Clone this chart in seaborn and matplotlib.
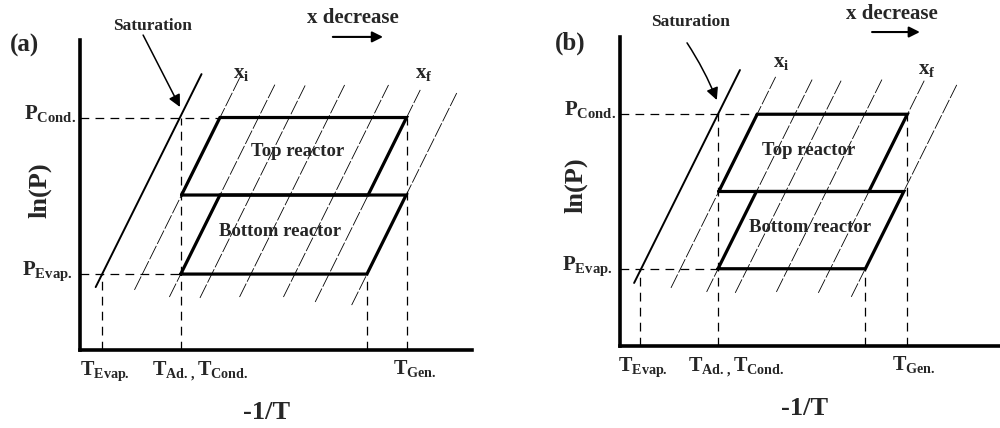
import numpy as np
import pandas as pd
import matplotlib
matplotlib.use("Agg")
import matplotlib.pyplot as plt
import seaborn as sns

# ---- panel (a) ----
a_sat = [4.0, 20.3, 31.0, 89.0]          # x0, y0, x1, y1
a_iso_x0 = [13.9, 22.8, 30.6, 40.7, 51.9, 60.0, 69.3]
a_iso_y0 = [19.4, 17.1, 16.8, 17.1, 17.1, 15.5, 14.5]
a_iso_x1 = [40.7, 49.9, 57.5, 67.5, 78.7, 86.8, 96.1]
a_iso_y1 = [87.7, 86.1, 85.5, 85.5, 85.5, 83.9, 82.9]
a_top_x = [25.9, 35.7, 83.3, 73.5]
a_top_y = [50, 75, 75, 50]
a_bot_x = [25.7, 35.7, 83.2, 73.2]
a_bot_y = [24.5, 50, 50, 24.5]
a_p = [75, 24.5]                          # P_Cond, P_Evap
a_t = [5.6, 25.8, 73.2, 83.3]             # T_Evap, T_Ad, bottom-right, T_Gen

# ---- panel (b) ----
b_sat = [3.6, 20.4, 30.6, 89.3]
b_iso_x0 = [13.0, 22.1, 29.4, 39.9, 50.6, 59.0]
b_iso_y0 = [18.8, 17.5, 17.2, 17.5, 17.2, 15.9]
b_iso_x1 = [39.7, 49.2, 56.5, 67.0, 77.7, 85.9]
b_iso_y1 = [87.1, 86.7, 86.1, 86.7, 86.1, 84.5]
b_top_x = [25.2, 35.0, 73.3, 63.5]
b_top_y = [50, 75, 75, 50]
b_bot_x = [25.0, 34.8, 72.4, 62.6]
b_bot_y = [25, 50, 50, 25]
b_p = [75, 25]
b_t = [5.2, 25.1, 62.6, 73.3]

p_labels = [r'$\mathbf{P}_{\mathbf{Cond.}}$', r'$\mathbf{P}_{\mathbf{Evap.}}$']
t_labels = [r'$\mathbf{T}_{\mathbf{Evap.}}$',
            r'$\mathbf{T}_{\mathbf{Ad.,}}\mathbf{T}_{\mathbf{Cond.}}$',
            r'$\mathbf{T}_{\mathbf{Gen.}}$']

sns.set_style("white")
plt.rcParams['font.family'] = ['Liberation Serif', 'DejaVu Serif']
plt.rcParams['font.weight'] = 'bold'
plt.rcParams['mathtext.fontset'] = 'custom'
plt.rcParams['mathtext.bf'] = 'Liberation Serif:bold'
plt.rcParams['mathtext.rm'] = 'Liberation Serif:bold'


def draw_panel(ax, tag, sat, ix0, iy0, ix1, iy1, topx, topy, botx, boty, p, t, lay):
    # isosteres
    rows = []
    for i in range(len(ix0)):
        rows.append((i, ix0[i], iy0[i]))
        rows.append((i, ix1[i], iy1[i]))
    iso = pd.DataFrame(rows, columns=['line', 'x', 'y'])
    sns.lineplot(data=iso, x='x', y='y', units='line', estimator=None, sort=False,
                 color='black', lw=0.6, linestyle=(0, (18, 2.5)), ax=ax, legend=False)

    # saturation line
    ax.plot([sat[0], sat[2]], [sat[1], sat[3]], color='black', lw=1.4)

    # reactors
    ax.plot(topx + topx[:1], topy + topy[:1], color='black', lw=2.3, solid_joinstyle='miter')
    ax.plot(botx + botx[:1], boty + boty[:1], color='black', lw=2.3, solid_joinstyle='miter')

    # dashed guides
    ds = dict(color='black', lw=0.9, linestyle=(0, (7, 5)))
    ax.plot([0, topx[1]], [p[0], p[0]], **ds)
    ax.plot([0, botx[0]], [p[1], p[1]], **ds)
    ax.plot([t[0], t[0]], [0, p[1]], **ds)
    ax.plot([t[1], t[1]], [0, p[0]], **ds)
    ax.plot([t[2], t[2]], [0, p[1]], **ds)
    ax.plot([t[3], t[3]], [0, p[0]], **ds)

    ax.set_xlim(0, 100)
    ax.set_ylim(0, 100)
    ax.set_xticks([])
    ax.set_yticks([])
    ax.set_xlabel('')
    ax.set_ylabel('')
    for s in ['top', 'right']:
        ax.spines[s].set_visible(False)
    for s in ['left', 'bottom']:
        ax.spines[s].set_linewidth(2.6)
        ax.spines[s].set_color('black')

    # labels
    ax.text(lay['tag'][0], lay['tag'][1], tag, fontsize=18, fontweight='bold', va='center')
    ax.text(-1.0, p[0] - 0.5, p_labels[0], fontsize=15, ha='right', va='baseline')
    ax.text(-2.0, p[1] - 0.5, p_labels[1], fontsize=15, ha='right', va='baseline')
    for xx, lab in zip(lay['tx'], t_labels):
        ax.text(xx, -8, lab, fontsize=14.5, ha='left', va='baseline')
    ax.text(lay['lnp'][0], lay['lnp'][1], 'ln(P)', fontsize=19, fontweight='bold',
            rotation=90, ha='center', va='center')
    ax.text(lay['inv'][0], -20.3, '-1/T', fontsize=19, fontweight='bold',
            ha='center', va='center')
    ax.text(lay['top'][0], lay['top'][1], 'Top reactor', fontsize=13.5, fontweight='bold',
            ha='center', va='center')
    ax.text(lay['bot'][0], lay['bot'][1], 'Bottom reactor', fontsize=13.5, fontweight='bold',
            ha='center', va='center')
    ax.text(lay['xi'][0], lay['xi'][1], r'$\mathbf{x}_{\mathbf{i}}$', fontsize=15, va='baseline')
    ax.text(lay['xf'][0], lay['xf'][1], r'$\mathbf{x}_{\mathbf{f}}$', fontsize=15, va='baseline')

    # saturation arrow
    ax.text(lay['sat'][0], lay['sat'][1], 'Saturation', fontsize=12.5, fontweight='bold',
            ha='center', va='center')
    ax.annotate('', xy=lay['sat_head'], xytext=lay['sat_tail'], annotation_clip=False,
                arrowprops=dict(arrowstyle='-|>', color='black', lw=1.1, mutation_scale=18,
                                shrinkA=0, shrinkB=0,
                                connectionstyle='arc3,rad=%s' % lay['rad']))

    # x decrease arrow
    ax.text(lay['xd'][0], lay['xd'][1], 'x decrease', fontsize=15, fontweight='bold',
            ha='center', va='center')
    ax.annotate('', xy=lay['xd_head'], xytext=lay['xd_tail'], annotation_clip=False,
                arrowprops=dict(arrowstyle='-|>', color='black', lw=1.5, mutation_scale=16,
                                shrinkA=0, shrinkB=0))


fig = plt.figure(figsize=(10, 4.28), dpi=100)
ax_a = fig.add_axes([0.08, 0.1822, 0.392, 0.7243])
ax_b = fig.add_axes([0.62, 0.1916, 0.392, 0.722])

lay_a = dict(tag=(-18, 98.4), tx=[0, 18.4, 79.8], lnp=(-10.2, 51.6), inv=(47.7,),
             top=(55.6, 63.9), bot=(51.0, 38.1), xi=(39.0, 87.5), xf=(85.5, 87.5),
             sat=(18.4, 104.5), sat_head=(25.5, 78.4), sat_tail=(16.1, 101.6), rad=0.0,
             xd=(69.6, 107.1), xd_head=(77.3, 101.0), xd_tail=(64.5, 101.0))
lay_b = dict(tag=(-16.6, 98.1), tx=[-0.5, 17.3, 69.4], lnp=(-11.2, 52), inv=(47.2,),
             top=(48.0, 63.4), bot=(48.5, 38.2), xi=(39.0, 90.0), xf=(76.0, 87.8),
             sat=(17.9, 104.9), sat_head=(24.7, 79.6), sat_tail=(17.1, 98.1), rad=-0.05,
             xd=(69.4, 107.4), xd_head=(76.5, 101.6), xd_tail=(64.3, 101.6))

draw_panel(ax_a, '(a)', a_sat, a_iso_x0, a_iso_y0, a_iso_x1, a_iso_y1,
           a_top_x, a_top_y, a_bot_x, a_bot_y, a_p, a_t, lay_a)
draw_panel(ax_b, '(b)', b_sat, b_iso_x0, b_iso_y0, b_iso_x1, b_iso_y1,
           b_top_x, b_top_y, b_bot_x, b_bot_y, b_p, b_t, lay_b)

fig.savefig('out.png', dpi=100, facecolor='white')
